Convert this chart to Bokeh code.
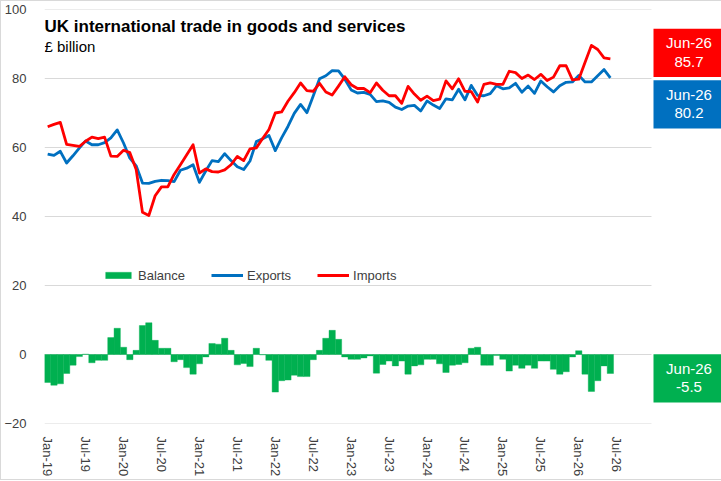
from bokeh.plotting import figure
from bokeh.models import Range1d, FixedTicker, Legend, LegendItem, Label
from bokeh.core.properties import value
from bokeh.embed import file_html
from bokeh.resources import INLINE

# ---- data (monthly, Jan-19 .. Jun-26, £ billion) ----
exports = [58.1, 57.7, 58.9, 55.5, 57.6, 59.8, 61.9, 60.8, 60.8, 61.4, 62.8, 65.1,
           61.3, 56.9, 54.7, 49.7, 49.6, 50.2, 50.5, 50.4, 50.1, 53.4, 54.0, 55.0,
           49.9, 53.2, 56.2, 55.9, 58.2, 56.2, 54.4, 53.6, 56.1, 61.7, 62.5, 63.5,
           59.1, 62.8, 66.1, 69.9, 72.5, 70.1, 74.9, 79.9, 80.8, 82.3, 82.2, 79.8,
           76.7, 75.8, 76.0, 75.4, 73.3, 73.5, 73.1, 71.7, 71.0, 72.0, 72.2, 70.6,
           73.5, 72.3, 71.3, 74.1, 73.8, 76.9, 73.8, 78.0, 75.1, 75.0, 75.6, 77.9,
           77.0, 77.3, 78.6, 76.0, 77.8, 75.7, 79.3, 77.6, 76.1, 77.9, 78.9, 79.0,
           80.9, 79.0, 79.0, 80.8, 82.6, 80.2]
imports = [66.0, 66.7, 67.3, 60.9, 60.6, 60.3, 61.8, 63.0, 62.6, 63.0, 57.5, 57.4,
           59.2, 58.5, 53.6, 41.2, 40.3, 46.0, 48.6, 48.6, 52.2, 55.0, 57.9, 60.8,
           52.6, 53.8, 53.0, 52.9, 53.5, 55.0, 57.4, 56.2, 59.6, 59.9, 62.6, 65.2,
           70.0, 70.3, 73.4, 75.9, 78.7, 76.5, 76.3, 78.6, 76.1, 75.2, 77.8, 80.5,
           78.2, 77.1, 77.1, 75.9, 78.7, 76.6, 75.0, 75.0, 72.8, 77.7, 75.5, 73.7,
           74.9, 73.6, 74.0, 79.3, 77.0, 79.9, 76.3, 76.2, 73.2, 78.3, 78.7, 78.3,
           78.3, 82.1, 81.7, 80.0, 81.0, 79.7, 81.2, 79.4, 80.4, 83.7, 83.7, 79.6,
           79.8, 84.7, 89.6, 88.4, 86.0, 85.7]
balance = [-8.1, -8.9, -8.5, -5.5, -3.1, -0.6, 0.1, -2.4, -1.7, -1.7, 4.9, 7.6,
           2.1, -1.5, 1.2, 8.4, 9.2, 4.1, 1.8, 1.8, -2.1, -1.5, -3.8, -5.7,
           -2.7, -0.7, 3.2, 3.0, 4.7, 1.2, -3.0, -2.6, -3.5, 1.8, -0.1, -1.7,
           -10.9, -7.6, -7.4, -6.0, -6.4, -6.4, -1.5, 1.2, 4.7, 7.0, 4.4, -0.7,
           -1.4, -1.4, -1.0, -0.4, -5.4, -2.9, -1.9, -3.3, -1.9, -5.7, -3.3, -3.0,
           -1.4, -1.4, -2.7, -5.2, -3.1, -2.9, -2.4, 1.8, 2.1, -3.1, -3.1, -0.3,
           -1.4, -4.8, -3.1, -4.0, -3.1, -4.0, -1.9, -1.9, -4.3, -5.7, -5.0, -0.7,
           1.1, -5.7, -10.7, -7.6, -3.3, -5.5]
tick_positions = [0, 6, 12, 18, 24, 30, 36, 42, 48, 54, 60, 66, 72, 78, 84, 90]
tick_labels = ["Jan-19", "Jul-19", "Jan-20", "Jul-20", "Jan-21", "Jul-21", "Jan-22", "Jul-22",
               "Jan-23", "Jul-23", "Jan-24", "Jul-24", "Jan-25", "Jul-25", "Jan-26", "Jul-26"]
y_ticks = [-20, 0, 20, 40, 60, 80, 100]
last_label = "Jun-26"

month_idx = list(range(len(exports)))

# ---- styling / layout constants ----
FONT = "Liberation Sans"
GREEN, BLUE, RED = "#00B050", "#0070C0", "#FF0000"
GRID = "#D9D9D9"
TXT = "#404040"
X_START, PLOT_END, X_END = -0.5, 95.5, 107.05
BOX_LEFT = 95.82
BOX_H = 14
box_centers = [87.4, 72.5, -6.9]   # label box vertical centres (layout)

p = figure(frame_width=680, frame_height=414,
           x_range=Range1d(X_START, X_END), y_range=Range1d(-20, 100),
           output_backend="svg", toolbar_location=None,
           min_border_left=38, min_border_right=0, min_border_top=8, min_border_bottom=56)
p.styles = {"border": "1px solid #D9D9D9"}
p.xgrid.visible = False
p.ygrid.visible = False
p.outline_line_color = None
p.background_fill_color = "white"
p.border_fill_color = "white"

# axes
p.yaxis.ticker = FixedTicker(ticks=y_ticks)
p.yaxis.axis_line_color = None
p.yaxis.major_tick_line_color = None
p.yaxis.minor_tick_line_color = None
p.yaxis.major_label_standoff = 12
p.yaxis.major_label_text_font = FONT
p.yaxis.major_label_text_font_size = "13px"
p.yaxis.major_label_text_color = TXT

p.xaxis.ticker = FixedTicker(ticks=tick_positions)
p.xaxis.major_label_overrides = {t: l for t, l in zip(tick_positions, tick_labels)}
p.xaxis.major_label_orientation = "vertical"
p.xaxis.axis_line_color = None
p.xaxis.major_tick_line_color = None
p.xaxis.minor_tick_line_color = None
p.xaxis.major_label_standoff = 7
p.xaxis.major_label_text_font = FONT
p.xaxis.major_label_text_font_size = "13px"
p.xaxis.major_label_text_color = TXT

# gridlines within the plot area only
p.segment(x0=[X_START] * len(y_ticks), x1=[PLOT_END] * len(y_ticks), y0=y_ticks, y1=y_ticks,
          line_color=GRID, line_width=1)

bars = p.vbar(x=month_idx, top=balance, bottom=0, width=1.0,
              fill_color=GREEN, line_color=GREEN, line_width=0.4)
l_exp = p.line(month_idx, exports, line_color=BLUE, line_width=2.8, line_join="round")
l_imp = p.line(month_idx, imports, line_color=RED, line_width=2.8, line_join="round")

legend = Legend(items=[LegendItem(label="Balance", renderers=[bars]),
                       LegendItem(label="Exports", renderers=[l_exp]),
                       LegendItem(label="Imports", renderers=[l_imp])],
                orientation="horizontal", location=(58, 140),
                glyph_width=32, glyph_height=8, label_height=16, label_standoff=4,
                spacing=26, padding=0, margin=0,
                border_line_color=None, background_fill_alpha=0,
                label_text_font=FONT, label_text_font_size="13px", label_text_color=TXT)
p.add_layout(legend, "center")

# right-hand value boxes
box_colors = [RED, BLUE, GREEN]
box_values = [imports[-1], exports[-1], balance[-1]]
p.quad(left=[BOX_LEFT] * 3, right=[X_END] * 3,
       bottom=[c - BOX_H / 2 for c in box_centers], top=[c + BOX_H / 2 for c in box_centers],
       fill_color=box_colors, line_color=None)
cx = (BOX_LEFT + X_END) / 2
p.text(x=[cx] * 3, y=box_centers, text=[last_label] * 3, y_offset=-10,
       text_align="center", text_baseline="middle", text_color="white",
       text_font=value(FONT), text_font_size="15px")
p.text(x=[cx] * 3, y=box_centers, text=[f"{v:.1f}" for v in box_values], y_offset=9,
       text_align="center", text_baseline="middle", text_color="white",
       text_font=value(FONT), text_font_size="15px")

# title and subtitle
p.add_layout(Label(x=0, y=397, x_units="screen", y_units="screen",
                   text="UK international trade in goods and services",
                   text_font=FONT, text_font_size="17px", text_font_style="bold",
                   text_color="black", text_baseline="alphabetic"))
p.add_layout(Label(x=0, y=377, x_units="screen", y_units="screen",
                   text="£ billion", text_font=FONT, text_font_size="15px",
                   text_color="black", text_baseline="alphabetic"))

open("out.html", "w").write(file_html(p, INLINE))
